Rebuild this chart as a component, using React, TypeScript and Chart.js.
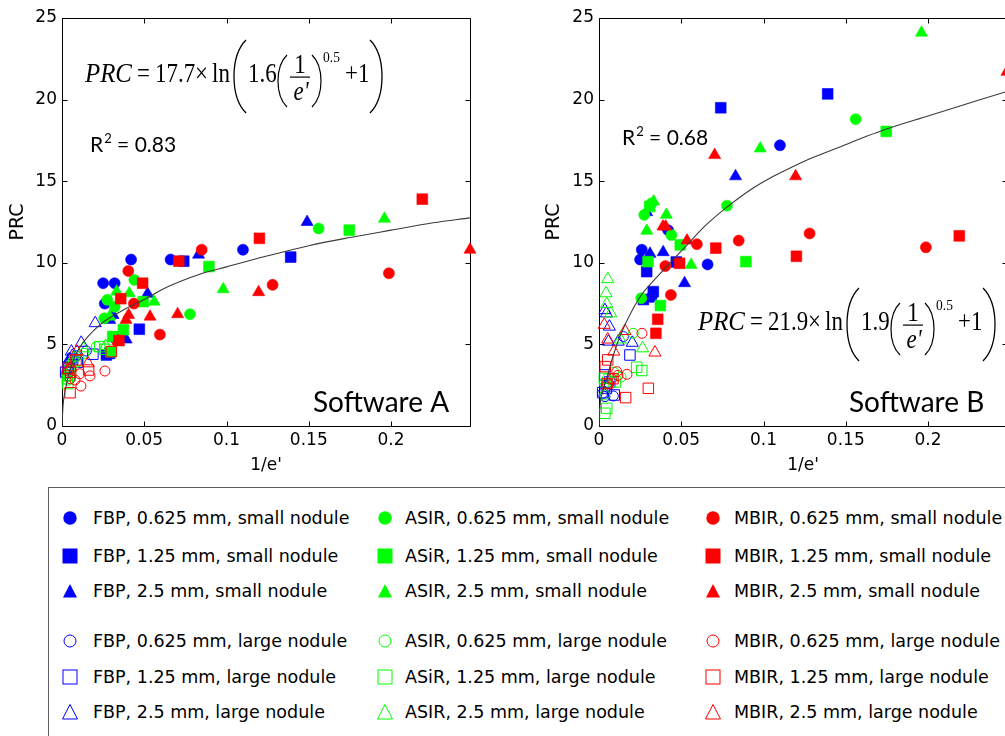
import React, { useEffect, useRef } from 'react';
import { Chart, registerables } from 'chart.js';

Chart.register(...registerables);

// ---------- axis ticks ----------
const xTickValues = [0, 0.05, 0.1, 0.15, 0.2];
const xTickLabels = ['0', '0.05', '0.1', '0.15', '0.2'];
const yTickValues = [0, 5, 10, 15, 20, 25];
const yTickLabels = ['0', '5', '10', '15', '20', '25'];
const X_MAX = 0.248;
const Y_MAX = 25;

// ---------- fitted curves ----------
const fitAX = [0, 0.0006, 0.0018, 0.0059, 0.011, 0.023, 0.039, 0.05, 0.0636, 0.0838, 0.1, 0.124, 0.15, 0.175, 0.2, 0.2256, 0.248];
const fitAY = [0, 1.2, 2.1, 3.8, 4.85, 6.2, 7.2, 7.75, 8.5, 9.3, 9.75, 10.4, 11.05, 11.55, 12.0, 12.45, 12.75];
const fitBX = [0, 0.0006, 0.0025, 0.0047, 0.0077, 0.0128, 0.0249, 0.035, 0.0442, 0.0512, 0.0654, 0.0776, 0.0917, 0.106, 0.118, 0.13, 0.1464, 0.1626, 0.1748, 0.2, 0.248];
const fitBY = [0, 1.2, 2.2, 2.9, 4.0, 5.5, 7.9, 9.1, 10.1, 10.85, 12.35, 13.4, 14.45, 15.3, 15.9, 16.45, 17.1, 17.75, 18.2, 19.0, 20.5];

// ---------- small nodule (filled markers) ----------
const fbp0625sX = [0.025, 0.026, 0.032, 0.042, 0.066, 0.110];
const fbp0625sA = [8.75, 7.5, 8.75, 10.2, 10.2, 10.8];
const fbp0625sB = [10.2, 10.8, 7.9, 12.0, 9.9, 17.2];

const fbp125sX = [0.027, 0.029, 0.033, 0.047, 0.074, 0.139];
const fbp125sA = [4.35, 4.45, 5.45, 5.93, 10.1, 10.35];
const fbp125sB = [7.75, 9.46, 8.23, 10.05, 19.5, 20.35];

const fbp25sX = [0.029, 0.031, 0.039, 0.052, 0.083, 0.149];
const fbp25sA = [6.5, 6.8, 5.3, 8.1, 10.5, 12.5];
const fbp25sB = [13.1, 10.55, 10.65, 8.75, 15.3, null];

const asir0625sX = [0.0257, 0.0275, 0.032, 0.044, 0.0778, 0.156];
const asir0625sA = [6.6, 7.73, 7.3, 8.95, 6.85, 12.1];
const asir0625sB = [7.83, 12.94, 13.65, 11.7, 13.5, 18.8];

const asir125sX = [0.0298, 0.0308, 0.0373, 0.0494, 0.0893, 0.1746];
const asir125sA = [4.55, 5.48, 5.9, 7.62, 9.77, 12.0];
const asir125sB = [10.07, 13.45, 7.38, 11.1, 10.07, 18.05];

const asir25sX = [0.029, 0.0332, 0.0409, 0.056, 0.098, 0.196];
const asir25sA = [6.7, 8.23, 8.13, 7.62, 8.38, 12.7];
const asir25sB = [11.96, 13.75, 12.94, 9.87, 17.0, 24.1];

const mbir0625sX = [0.0403, 0.0437, 0.0595, 0.0849, 0.128, 0.1987];
const mbir0625sA = [9.5, 7.5, 5.6, 10.8, 8.65, 9.36];
const mbir0625sB = [9.8, 8.03, 11.14, 11.36, 11.8, 10.95];

const mbir125sX = [0.0346, 0.0357, 0.049, 0.071, 0.120, 0.219];
const mbir125sA = [5.23, 7.8, 8.75, 10.1, 11.5, 13.9];
const mbir125sB = [5.68, 6.54, 9.97, 10.9, 10.4, 11.65];

const mbir25sX = [0.0389, 0.0405, 0.0535, 0.0703, 0.1195, 0.248];
const mbir25sA = [6.5, 6.8, 6.7, 6.85, 8.2, 10.8];
const mbir25sB = [12.22, 12.22, 11.36, 16.6, 15.3, 21.7];

// ---------- large nodule (open markers) ----------
const fbp0625lX = [0.0022, 0.0036, 0.0047, 0.0060, 0.0087, 0.0148];
const fbp0625lA = [3.2, 3.5, 3.9, 4.0, 4.3, 4.6];
const fbp0625lB = [2.0, 1.8, 2.4, 2.6, 1.84, 5.48];

const fbp125lX = [0.0022, 0.0036, 0.0045, 0.0065, 0.0093, 0.0188];
const fbp125lA = [3.3, 3.6, 3.1, 4.1, 3.9, 4.4];
const fbp125lB = [2.04, 3.13, 2.3, 2.7, 1.9, 4.35];

const fbp25lX = [0.0036, 0.0045, 0.0057, 0.0063, 0.0117, 0.0202];
const fbp25lA = [3.8, 4.1, 4.56, 4.3, 5.1, 6.3];
const fbp25lB = [7.1, 6.9, 5.17, 6.09, 5.17, 5.1];

const asir0625lX = [0.0032, 0.0035, 0.0050, 0.0090, 0.0134, 0.0208];
const asir0625lA = [3.0, 2.8, 3.4, 3.9, 4.45, 4.86];
const asir0625lB = [2.6, 1.9, 2.9, 3.3, 3.0, 5.68];

const asir125lX = [0.0032, 0.0036, 0.0047, 0.0100, 0.0229, 0.0260];
const asir125lA = [2.9, 2.6, 3.1, 4.0, 4.86, 4.7];
const asir125lB = [2.92, 0.78, 1.08, 2.7, 3.6, 3.4];

const asir25lX = [0.0043, 0.0047, 0.0053, 0.0071, 0.0130, 0.0265];
const asir25lA = [3.3, 3.6, 3.9, 4.2, 4.76, 4.9];
const asir25lB = [8.13, 7.48, 9.0, 6.9, 5.3, 4.76];

const mbir0625lX = [0.0050, 0.0079, 0.0108, 0.0115, 0.0170, 0.0261];
const mbir0625lA = [2.9, 2.82, 3.2, 2.45, 3.07, 3.37];
const mbir0625lB = [2.6, 2.9, 3.33, 3.1, 3.17, 5.68];

const mbir125lX = [0.0038, 0.0049, 0.0053, 0.0085, 0.0162, 0.0300];
const mbir125lA = [3.54, 2.04, 3.3, 4.05, 3.43, 4.56];
const mbir125lB = [3.64, 2.6, 4.05, 2.9, 1.74, 2.31];

const mbir25lX = [0.0032, 0.0053, 0.0090, 0.0158, 0.0340];
const mbir25lA = [3.4, 3.6, 4.56, 3.84, 5.2];
const mbir25lB = [6.2, 5.3, 4.56, 5.82, 4.5];

// ---------- series table (legend order) ----------
const BLUE = '#0000ff';
const GREEN = '#00ff00';
const RED = '#ff0000';

type Shape = 'circle' | 'rect' | 'triangle';
type Series = { label: string; color: string; shape: Shape; filled: boolean; x: number[]; a: (number | null)[]; b: (number | null)[] };

const SERIES: Series[] = [
  { label: 'FBP, 0.625 mm, small nodule', color: BLUE, shape: 'circle', filled: true, x: fbp0625sX, a: fbp0625sA, b: fbp0625sB },
  { label: 'FBP, 1.25 mm, small nodule', color: BLUE, shape: 'rect', filled: true, x: fbp125sX, a: fbp125sA, b: fbp125sB },
  { label: 'FBP, 2.5 mm, small nodule', color: BLUE, shape: 'triangle', filled: true, x: fbp25sX, a: fbp25sA, b: fbp25sB },
  { label: 'ASIR, 0.625 mm, small nodule', color: GREEN, shape: 'circle', filled: true, x: asir0625sX, a: asir0625sA, b: asir0625sB },
  { label: 'ASiR, 1.25 mm, small nodule', color: GREEN, shape: 'rect', filled: true, x: asir125sX, a: asir125sA, b: asir125sB },
  { label: 'ASIR, 2.5 mm, small nodule', color: GREEN, shape: 'triangle', filled: true, x: asir25sX, a: asir25sA, b: asir25sB },
  { label: 'MBIR, 0.625 mm, small nodule', color: RED, shape: 'circle', filled: true, x: mbir0625sX, a: mbir0625sA, b: mbir0625sB },
  { label: 'MBIR, 1.25 mm, small nodule', color: RED, shape: 'rect', filled: true, x: mbir125sX, a: mbir125sA, b: mbir125sB },
  { label: 'MBIR, 2.5 mm, small nodule', color: RED, shape: 'triangle', filled: true, x: mbir25sX, a: mbir25sA, b: mbir25sB },
  { label: 'FBP, 0.625 mm, large nodule', color: BLUE, shape: 'circle', filled: false, x: fbp0625lX, a: fbp0625lA, b: fbp0625lB },
  { label: 'FBP, 1.25 mm, large nodule', color: BLUE, shape: 'rect', filled: false, x: fbp125lX, a: fbp125lA, b: fbp125lB },
  { label: 'FBP, 2.5 mm, large nodule', color: BLUE, shape: 'triangle', filled: false, x: fbp25lX, a: fbp25lA, b: fbp25lB },
  { label: 'ASIR, 0.625 mm, large nodule', color: GREEN, shape: 'circle', filled: false, x: asir0625lX, a: asir0625lA, b: asir0625lB },
  { label: 'ASiR, 1.25 mm, large nodule', color: GREEN, shape: 'rect', filled: false, x: asir125lX, a: asir125lA, b: asir125lB },
  { label: 'ASIR, 2.5 mm, large nodule', color: GREEN, shape: 'triangle', filled: false, x: asir25lX, a: asir25lA, b: asir25lB },
  { label: 'MBIR, 0.625 mm, large nodule', color: RED, shape: 'circle', filled: false, x: mbir0625lX, a: mbir0625lA, b: mbir0625lB },
  { label: 'MBIR, 1.25 mm, large nodule', color: RED, shape: 'rect', filled: false, x: mbir125lX, a: mbir125lA, b: mbir125lB },
  { label: 'MBIR, 2.5 mm, large nodule', color: RED, shape: 'triangle', filled: false, x: mbir25lX, a: mbir25lA, b: mbir25lB },
];

// ---------- panel texts ----------
const panelA = { software: 'Software A', r2: '0.83', coef: '17.7', inner: '1.6' };
const panelB = { software: 'Software B', r2: '0.68', coef: '21.9', inner: '1.9' };

const SANS = '"DejaVu Sans", sans-serif';
const SERIF = '"Liberation Serif", "Times New Roman", serif';
const CAL = 'Lato, "Open Sans", sans-serif';

function radiusFor(shape: Shape, filled: boolean) {
  if (shape === 'circle') return filled ? 5.5 : 5;
  if (shape === 'rect') return filled ? 7.6 : 7.4;
  return 7;
}

function paren(ctx: CanvasRenderingContext2D, xa: number, xb: number, top: number, bot: number, side: 'L' | 'R', lw: number) {
  const h = bot - top;
  ctx.beginPath();
  if (side === 'L') {
    const cx = (xa - 0.25 * xb) / 0.75;
    ctx.moveTo(xb, top);
    ctx.bezierCurveTo(cx, top + h * 0.22, cx, bot - h * 0.22, xb, bot);
  } else {
    const cx = (xb - 0.25 * xa) / 0.75;
    ctx.moveTo(xa, top);
    ctx.bezierCurveTo(cx, top + h * 0.22, cx, bot - h * 0.22, xa, bot);
  }
  ctx.lineWidth = lw;
  ctx.strokeStyle = '#000';
  ctx.stroke();
}

function txt(ctx: CanvasRenderingContext2D, s: string, x: number, y: number, font: string, sx: number, align: CanvasTextAlign = 'left') {
  ctx.save();
  ctx.font = font;
  ctx.textAlign = align;
  ctx.textBaseline = 'alphabetic';
  ctx.translate(x, y);
  ctx.scale(sx, 1);
  ctx.fillText(s, 0, 0);
  ctx.restore();
}

function drawEq(ctx: CanvasRenderingContext2D, x0: number, yb: number, coef: string, inner: string) {
  ctx.save();
  ctx.fillStyle = '#000';
  const REG = `27px ${SERIF}`;
  const ITA = `italic 27px ${SERIF}`;
  const SX = 0.85;
  txt(ctx, 'PRC', x0, yb, ITA, 0.92);
  txt(ctx, '=', x0 + 52, yb, REG, SX);
  txt(ctx, coef, x0 + 70, yb, REG, SX);
  txt(ctx, '\u00d7', x0 + 110, yb, REG, SX);
  txt(ctx, 'ln', x0 + 127, yb, REG, SX);
  paren(ctx, x0 + 149, x0 + 161, yb - 42, yb + 31, 'L', 1.3);
  txt(ctx, inner, x0 + 163, yb, REG, SX);
  paren(ctx, x0 + 193, x0 + 202, yb - 27, yb + 25, 'L', 1.2);
  txt(ctx, '1', x0 + 215, yb - 9, REG, SX, 'center');
  ctx.fillRect(x0 + 205, yb - 5.5, 20, 1.2);
  txt(ctx, "e'", x0 + 216, yb + 18, ITA, SX, 'center');
  paren(ctx, x0 + 227, x0 + 236, yb - 27, yb + 25, 'R', 1.2);
  txt(ctx, '0.5', x0 + 238, yb - 20, `15px ${SERIF}`, 0.9);
  txt(ctx, '+1', x0 + 260, yb, REG, SX);
  paren(ctx, x0 + 285, x0 + 297, yb - 42, yb + 31, 'R', 1.3);
  ctx.restore();
}

function drawR2(ctx: CanvasRenderingContext2D, x: number, yb: number, val: string) {
  ctx.save();
  ctx.fillStyle = '#000';
  ctx.textAlign = 'left';
  ctx.textBaseline = 'alphabetic';
  ctx.font = `21px ${CAL}`;
  ctx.fillText('R', x, yb);
  const w = ctx.measureText('R').width;
  ctx.font = `13px ${CAL}`;
  ctx.fillText('2', x + w + 1, yb - 9);
  const w2 = ctx.measureText('2').width;
  ctx.font = `21px ${CAL}`;
  ctx.fillText(' = ' + val, x + w + w2 + 1, yb);
  ctx.restore();
}

const framePlugin = {
  id: 'frame',
  beforeDatasetsDraw(chart: any) {
    const { ctx, chartArea } = chart;
    const xs = chart.scales.x;
    const ys = chart.scales.y;
    const l = Math.round(chartArea.left) + 0.5;
    const r = Math.round(chartArea.right) + 0.5;
    const t = Math.round(chartArea.top) + 0.5;
    const b = Math.round(chartArea.bottom) + 0.5;
    ctx.save();
    ctx.strokeStyle = '#000';
    ctx.lineWidth = 1;
    ctx.beginPath();
    ctx.rect(l, t, r - l, b - t);
    for (const v of xTickValues) {
      const px = Math.round(xs.getPixelForValue(v)) + 0.5;
      ctx.moveTo(px, b); ctx.lineTo(px, b - 5);
      ctx.moveTo(px, t); ctx.lineTo(px, t + 5);
    }
    for (const v of yTickValues) {
      const py = Math.round(ys.getPixelForValue(v)) + 0.5;
      ctx.moveTo(l, py); ctx.lineTo(l + 5, py);
      ctx.moveTo(r, py); ctx.lineTo(r - 5, py);
    }
    ctx.stroke();
    ctx.restore();
  },
};

const textPlugin = {
  id: 'panelText',
  afterDraw(chart: any, _args: any, opts: any) {
    const ctx = chart.ctx as CanvasRenderingContext2D;
    drawEq(ctx, opts.eqX, opts.eqY, opts.coef, opts.inner);
    drawR2(ctx, opts.r2X, opts.r2Y, opts.r2);
    ctx.save();
    ctx.fillStyle = '#000';
    ctx.textAlign = 'left';
    ctx.textBaseline = 'alphabetic';
    ctx.font = `28px ${CAL}`;
    ctx.fillText(opts.software, opts.swX, opts.swY);
    ctx.restore();
  },
};

function buildDatasets(panel: 'a' | 'b') {
  const fx = panel === 'a' ? fitAX : fitBX;
  const fy = panel === 'a' ? fitAY : fitBY;
  const ds: any[] = [
    {
      label: 'fit',
      data: fx.map((x, i) => ({ x, y: fy[i] })),
      showLine: true,
      borderColor: '#3a3a3a',
      borderWidth: 1.1,
      pointRadius: 0,
      cubicInterpolationMode: 'monotone',
      fill: false,
    },
  ];
  const ordered = [...SERIES].reverse();
  for (const s of ordered) {
    const ys = panel === 'a' ? s.a : s.b;
    ds.push({
      label: s.label,
      data: s.x.map((x, i) => ({ x, y: ys[i] })),
      pointStyle: s.shape,
      pointRadius: radiusFor(s.shape, s.filled),
      pointBackgroundColor: s.filled ? s.color : 'rgba(0,0,0,0)',
      pointBorderColor: s.color,
      pointBorderWidth: s.filled ? 0.6 : 1,
      showLine: false,
      clip: false,
    });
  }
  return ds;
}

function makeOptions(textOpts: any, rightPad: number, yTitlePad: number) {
  return {
    animation: false,
    responsive: false,
    events: [],
    layout: { padding: { left: 0, top: 18, right: rightPad, bottom: 0 } },
    plugins: {
      legend: { display: false },
      tooltip: { enabled: false },
      panelText: textOpts,
    },
    scales: {
      x: {
        type: 'linear',
        min: 0,
        max: X_MAX,
        afterBuildTicks: (s: any) => { s.ticks = xTickValues.map((v) => ({ value: v })); },
        afterFit: (s: any) => { s.height = 54; },
        grid: { display: false, drawTicks: false },
        border: { display: false },
        ticks: {
          padding: 4,
          color: '#000',
          maxRotation: 0,
          autoSkip: false,
          font: { family: SANS, size: 17 },
          callback: (v: number) => xTickLabels[xTickValues.indexOf(v)] ?? '',
        },
        title: { display: true, text: "1/e'", color: '#000', font: { family: SANS, size: 17 }, padding: { top: 0, bottom: 4 } },
      },
      y: {
        type: 'linear',
        min: 0,
        max: Y_MAX,
        afterBuildTicks: (s: any) => { s.ticks = yTickValues.map((v) => ({ value: v })); },
        afterFit: (s: any) => { s.width = 62; },
        grid: { display: false, drawTicks: false },
        border: { display: false },
        ticks: {
          padding: 5,
          color: '#000',
          autoSkip: false,
          font: { family: SANS, size: 17 },
          callback: (v: number) => yTickLabels[yTickValues.indexOf(v)] ?? '',
        },
        title: { display: true, text: 'PRC', color: '#000', font: { family: SANS, size: 19 }, padding: { top: yTitlePad, bottom: 0 } },
      },
    },
  };
}

function Panel({ panel, left, width }: { panel: 'a' | 'b'; left: number; width: number }) {
  const ref = useRef<HTMLCanvasElement | null>(null);
  useEffect(() => {
    if (!ref.current) return;
    const p = panel === 'a' ? panelA : panelB;
    const textOpts =
      panel === 'a'
        ? { eqX: 85, eqY: 82, r2X: 90, r2Y: 152, swX: 313, swY: 412, ...p }
        : { eqX: 161, eqY: 330, r2X: 85, r2Y: 145, swX: 312, swY: 412, ...p };
    const chart = new Chart(ref.current, {
      type: 'scatter',
      data: { datasets: buildDatasets(panel) },
      options: makeOptions(textOpts, panel === 'a' ? 30 : 10, panel === 'a' ? 7 : 5.5) as any,
      plugins: [framePlugin, textPlugin],
    });
    return () => chart.destroy();
  }, [panel]);
  return (
    <canvas
      ref={ref}
      width={width}
      height={480}
      style={{ position: 'absolute', left, top: 0, width, height: 480 }}
    />
  );
}

// ---------- legend layout ----------
const legendRowsY = [518, 556, 591, 641, 677, 712];
const legendMarkerX = [70, 385, 713];
const legendTextX = [93, 405, 734];

function Marker({ shape, filled, color }: { shape: Shape; filled: boolean; color: string }) {
  const fill = filled ? color : 'none';
  const stroke = color;
  let el: any;
  if (shape === 'circle') el = filled ? <circle cx={9} cy={9} r={6.7} fill={fill} /> : <circle cx={9} cy={9} r={6} fill="none" stroke={stroke} strokeWidth={1} />;
  else if (shape === 'rect') el = filled ? <rect x={1.5} y={1.5} width={15} height={15} fill={fill} /> : <rect x={2} y={2} width={14} height={14} fill="none" stroke={stroke} strokeWidth={1} />;
  else el = filled ? <polygon points="9,2 16,15.5 2,15.5" fill={fill} /> : <polygon points="9,1.5 16.5,16 1.5,16" fill="none" stroke={stroke} strokeWidth={1} />;
  return (
    <svg width={18} height={18} style={{ position: 'absolute', left: -9, top: -9, overflow: 'visible' }}>
      {el}
    </svg>
  );
}

function Legend() {
  return (
    <>
      <div
        style={{
          position: 'absolute',
          left: 48,
          top: 487,
          width: 1000,
          height: 300,
          border: '1px solid #606060',
          boxSizing: 'border-box',
        }}
      />
      {SERIES.map((s, i) => {
        const col = Math.floor((i % 9) / 3);
        const row = (i % 3) + (i >= 9 ? 3 : 0);
        const y = legendRowsY[row];
        return (
          <React.Fragment key={s.label}>
            <div style={{ position: 'absolute', left: legendMarkerX[col], top: y, width: 0, height: 0 }}>
              <Marker shape={s.shape} filled={s.filled} color={s.color} />
            </div>
            <div
              style={{
                position: 'absolute',
                left: legendTextX[col],
                top: y - 10,
                font: `17.5px ${SANS}`,
                lineHeight: '20px',
                whiteSpace: 'pre',
                color: '#000',
              }}
            >
              {s.label}
            </div>
          </React.Fragment>
        );
      })}
    </>
  );
}

export default function App() {
  return (
    <div
      style={{
        position: 'fixed',
        left: 0,
        top: 0,
        width: 1005,
        height: 736,
        overflow: 'hidden',
        background: '#fff',
      }}
    >
      <Panel panel="a" left={0} width={500} />
      <Panel panel="b" left={537} width={480} />
      <Legend />
    </div>
  );
}
